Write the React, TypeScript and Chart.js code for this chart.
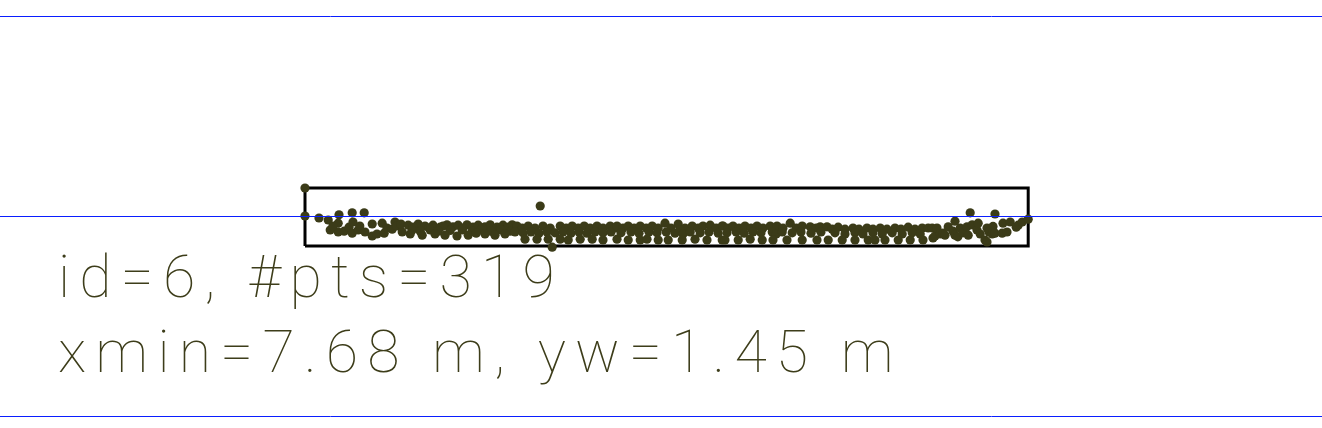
import React, { useEffect, useRef } from "react";
import { Chart, registerables } from "chart.js";

Chart.register(...registerables);

// Scatter points [x (m), y (m)]
const outlierPoints: [number, number][] = [
  [7.68, 0.70], [7.68, 0.0], [13.56, 0.25], [13.86, -0.78], [24.31, 0.08], [24.93, 0.05],
];

const leftPoints: [number, number][] = [
  [8.03, -0.05], [8.26, -0.10], [8.53, 0.03], [8.86, 0.08], [9.16, 0.08],
  [8.31, -0.35], [8.51, -0.18], [8.51, -0.40], [8.38, -0.25], [8.66, -0.38], [8.78, -0.28],
  [8.88, -0.15], [8.86, -0.43], [9.01, -0.35], [9.05, -0.25], [9.18, -0.40], [9.36, -0.20],
  [9.36, -0.50], [9.48, -0.45], [9.61, -0.18], [9.66, -0.43], [9.73, -0.30], [9.86, -0.33],
  [9.93, -0.15], [9.98, -0.25], [10.11, -0.40], [10.08, -0.20],
];

const bandPointsA: [number, number][] = [
  [10.26, -0.23], [10.51, -0.20], [10.68, -0.25], [10.88, -0.23], [11.06, -0.28], [11.23, -0.22],
  [11.38, -0.27], [11.51, -0.23], [11.73, -0.22], [11.88, -0.28], [12.01, -0.23], [12.18, -0.27],
  [12.31, -0.22], [12.48, -0.28], [12.63, -0.23], [12.86, -0.22],
  [10.38, -0.28], [10.78, -0.30], [11.13, -0.25], [11.63, -0.30], [12.11, -0.30], [12.56, -0.30], [12.76, -0.28],
  [10.36, -0.35], [10.56, -0.38], [10.81, -0.35], [11.01, -0.38], [11.31, -0.36], [11.61, -0.35],
  [11.86, -0.38], [12.08, -0.35], [12.33, -0.38], [12.58, -0.35], [12.81, -0.38],
  [10.31, -0.45], [10.61, -0.48], [10.93, -0.45], [11.18, -0.48], [11.48, -0.50], [11.76, -0.48],
  [12.18, -0.45], [12.43, -0.48], [12.68, -0.45], [11.96, -0.43],
];

const bandPointsB: [number, number][] = [
  [12.98, -0.25], [13.11, -0.30], [13.26, -0.25], [13.43, -0.30], [13.63, -0.25], [13.81, -0.30],
  [14.06, -0.25], [14.21, -0.30], [14.36, -0.25], [14.51, -0.30], [14.66, -0.25], [14.81, -0.30],
  [14.98, -0.25], [15.13, -0.30], [15.31, -0.25], [15.43, -0.30],
  [12.93, -0.40], [13.13, -0.42], [13.33, -0.40], [13.53, -0.43], [13.73, -0.40], [13.93, -0.42],
  [14.13, -0.40], [14.33, -0.43], [14.53, -0.40], [14.73, -0.43], [14.93, -0.40], [15.13, -0.42], [15.33, -0.40],
  [13.18, -0.58], [13.48, -0.58], [13.76, -0.58], [14.06, -0.58], [14.26, -0.60], [14.56, -0.58],
  [14.86, -0.58], [15.13, -0.60], [15.48, -0.58],
];

const bandPointsC: [number, number][] = [
  [15.48, -0.25], [15.63, -0.30], [15.76, -0.25], [15.91, -0.30], [16.06, -0.25], [16.21, -0.30],
  [16.36, -0.25], [16.51, -0.30], [16.68, -0.18], [16.83, -0.30], [17.01, -0.20], [17.18, -0.30],
  [17.36, -0.25], [17.51, -0.30], [17.63, -0.25], [17.81, -0.23], [17.96, -0.30], [18.11, -0.25],
  [15.58, -0.42], [15.83, -0.40], [16.03, -0.43], [16.28, -0.40], [16.48, -0.42], [16.71, -0.40],
  [16.93, -0.43], [17.06, -0.35], [17.13, -0.45], [17.31, -0.40], [17.56, -0.42], [17.78, -0.40], [18.01, -0.43],
  [15.76, -0.60], [16.06, -0.60], [16.23, -0.58], [16.51, -0.60], [16.76, -0.60], [17.11, -0.60],
  [17.43, -0.58], [17.73, -0.60], [18.11, -0.60],
];

const bandPointsD: [number, number][] = [
  [18.13, -0.25], [18.26, -0.30], [18.38, -0.25], [18.53, -0.30], [18.68, -0.25], [18.83, -0.30],
  [18.98, -0.25], [19.13, -0.30], [19.31, -0.25], [19.48, -0.25], [19.63, -0.30], [19.81, -0.18],
  [19.96, -0.30], [20.11, -0.25], [20.31, -0.27], [20.46, -0.30], [20.56, -0.27], [20.73, -0.27],
  [18.23, -0.42], [18.46, -0.40], [18.66, -0.43], [18.88, -0.40], [19.08, -0.42], [19.36, -0.40],
  [19.46, -0.45], [19.61, -0.40], [19.86, -0.42], [20.08, -0.40], [20.33, -0.43], [20.58, -0.40],
  [18.18, -0.60], [18.51, -0.60], [18.81, -0.58], [19.11, -0.60], [19.38, -0.60], [19.73, -0.60],
  [20.11, -0.60], [20.48, -0.60], [20.76, -0.60],
];

const bandPointsE: [number, number][] = [
  [20.86, -0.33], [21.01, -0.28], [21.18, -0.33], [21.38, -0.30], [21.53, -0.33], [21.73, -0.30],
  [21.88, -0.33], [22.06, -0.30], [22.23, -0.33], [22.43, -0.30], [22.58, -0.33], [22.76, -0.28],
  [22.93, -0.33], [23.11, -0.30], [23.26, -0.30],
  [20.93, -0.42], [21.18, -0.45], [21.43, -0.42], [21.63, -0.45], [21.88, -0.42], [22.11, -0.45],
  [22.36, -0.42], [22.61, -0.45], [22.86, -0.42], [23.06, -0.45],
  [21.11, -0.60], [21.43, -0.60], [21.76, -0.60], [21.93, -0.60], [22.18, -0.60], [22.51, -0.60],
  [22.81, -0.60], [23.13, -0.60],
];

const rightPoints: [number, number][] = [
  [23.36, -0.30], [23.38, -0.55], [23.43, -0.50], [23.48, -0.30], [23.56, -0.45], [23.63, -0.43],
  [23.68, -0.48], [23.76, -0.27], [23.88, -0.38], [23.93, -0.13], [23.93, -0.48], [24.0, -0.52],
  [24.06, -0.30], [24.13, -0.42], [24.23, -0.27], [24.26, -0.48], [24.36, -0.22], [24.48, -0.35],
  [24.51, -0.18], [24.56, -0.45], [24.68, -0.60], [24.73, -0.30], [24.73, -0.65], [24.78, -0.40],
  [24.86, -0.45], [24.88, -0.26], [24.93, -0.43], [25.11, -0.43], [25.13, -0.18], [25.23, -0.40],
  [25.31, -0.15], [25.51, -0.23], [25.46, -0.28], [25.61, -0.15], [25.76, -0.08],
];

// Bounding box (m)
const boxX = [7.68, 25.76];
const boxY = [-0.75, 0.70];

// Horizontal reference lines (m)
const refLines = [5, 0, -5];

// Annotation text
const labelLines = ["id=6, #pts=319", "xmin=7.68 m, yw=1.45 m"];
const labelX = 1.505;
const labelBaselines = [-2.025, -3.9];

const X_MIN = 0.055;
const X_MAX = 33.105;
const Y_MIN = -5.3;
const Y_MAX = 5.4;

const allPoints = [
  ...outlierPoints, ...leftPoints, ...bandPointsA, ...bandPointsB,
  ...bandPointsC, ...bandPointsD, ...bandPointsE, ...rightPoints,
];

export default function App() {
  const ref = useRef<HTMLCanvasElement>(null);

  useEffect(() => {
    const canvas = ref.current;
    if (!canvas) return;

    const overlay = {
      id: "overlay",
      afterDatasetsDraw(chart: any) {
        const ctx = chart.ctx;
        const xs = chart.scales.x;
        const ys = chart.scales.y;
        ctx.save();
        ctx.strokeStyle = "#0a1eff";
        ctx.lineWidth = 1;
        for (const v of refLines) {
          const py = Math.round(ys.getPixelForValue(v)) + 0.5;
          ctx.beginPath();
          ctx.moveTo(xs.getPixelForValue(X_MIN), py);
          ctx.lineTo(xs.getPixelForValue(X_MAX), py);
          ctx.stroke();
        }
        ctx.restore();
      },
      afterDraw(chart: any) {
        const ctx = chart.ctx;
        const xs = chart.scales.x;
        const ys = chart.scales.y;
        ctx.save();
        ctx.font = "100 59px Roboto";
        ctx.fillStyle = "#3d3d1a";
        ctx.textBaseline = "alphabetic";
        ctx.textAlign = "left";
        const spacing = 9.2;
        labelLines.forEach((line, i) => {
          let px = xs.getPixelForValue(labelX);
          const py = ys.getPixelForValue(labelBaselines[i]);
          for (const ch of line) {
            ctx.fillText(ch, px, py);
            px += ctx.measureText(ch).width + spacing;
          }
        });
        ctx.restore();
      },
    };

    const chart = new Chart(canvas, {
      type: "scatter",
      data: {
        datasets: [
          {
            data: allPoints.map(([x, y]) => ({ x, y })),
            backgroundColor: "#3b3b18",
            borderWidth: 0,
            pointRadius: 4.6,
            pointBorderWidth: 0,
            order: 0,
          },
          {
            data: [
              { x: boxX[0], y: boxY[0] },
              { x: boxX[0], y: boxY[1] },
              { x: boxX[1], y: boxY[1] },
              { x: boxX[1], y: boxY[0] },
              { x: boxX[0], y: boxY[0] },
            ],
            showLine: true,
            borderColor: "#000000",
            borderWidth: 3,
            pointRadius: 0,
            fill: false,
            order: 1,
          } as any,
        ],
      },
      options: {
        animation: false,
        responsive: false,
        maintainAspectRatio: false,
        layout: { padding: 0, autoPadding: false },
        plugins: {
          legend: { display: false },
          tooltip: { enabled: false },
        },
        scales: {
          x: { type: "linear", min: X_MIN, max: X_MAX, display: false },
          y: { type: "linear", min: Y_MIN, max: Y_MAX, display: false },
        },
      },
      plugins: [overlay],
    });

    return () => chart.destroy();
  }, []);

  return (
    <div style={{ position: "fixed", left: 0, top: 0, width: 1322, height: 428, background: "#ffffff" }}>
      <canvas ref={ref} width={1322} height={428} style={{ display: "block" }} />
    </div>
  );
}
